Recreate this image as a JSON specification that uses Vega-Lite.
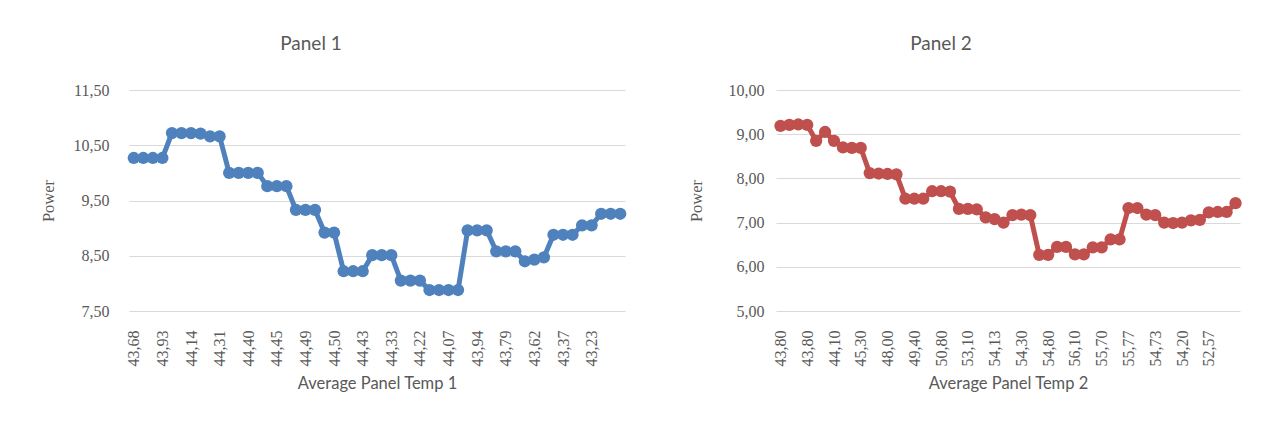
{
  "$schema": "https://vega.github.io/schema/vega-lite/v6.json",
  "background": "white",
  "padding": {"left": 40, "top": 35, "right": 5, "bottom": 5},
  "config": {
    "view": {"stroke": null},
    "title": {"font": "Lato", "fontSize": 19, "fontWeight": "normal", "color": "#595959"},
    "axis": {
      "labelFont": "Liberation Serif", "labelFontSize": 16, "labelColor": "#595959",
      "titleFont": "Lato", "titleFontSize": 16.5, "titleFontWeight": "normal", "titleColor": "#595959",
      "gridColor": "#d9d9d9", "gridWidth": 1, "domain": false, "ticks": false
    }
  },
  "datasets": {
    "p1": [
      {"i": 0, "power": 10.27}, {"i": 1, "power": 10.27}, {"i": 2, "power": 10.27}, {"i": 3, "power": 10.27},
      {"i": 4, "power": 10.72}, {"i": 5, "power": 10.72}, {"i": 6, "power": 10.72}, {"i": 7, "power": 10.71},
      {"i": 8, "power": 10.66}, {"i": 9, "power": 10.66},
      {"i": 10, "power": 10.0}, {"i": 11, "power": 10.0}, {"i": 12, "power": 10.0}, {"i": 13, "power": 10.0},
      {"i": 14, "power": 9.76}, {"i": 15, "power": 9.76}, {"i": 16, "power": 9.76},
      {"i": 17, "power": 9.33}, {"i": 18, "power": 9.33}, {"i": 19, "power": 9.33},
      {"i": 20, "power": 8.92}, {"i": 21, "power": 8.92},
      {"i": 22, "power": 8.22}, {"i": 23, "power": 8.22}, {"i": 24, "power": 8.22},
      {"i": 25, "power": 8.51}, {"i": 26, "power": 8.51}, {"i": 27, "power": 8.51},
      {"i": 28, "power": 8.05}, {"i": 29, "power": 8.05}, {"i": 30, "power": 8.05},
      {"i": 31, "power": 7.88}, {"i": 32, "power": 7.88}, {"i": 33, "power": 7.88}, {"i": 34, "power": 7.88},
      {"i": 35, "power": 8.96}, {"i": 36, "power": 8.96}, {"i": 37, "power": 8.96},
      {"i": 38, "power": 8.58}, {"i": 39, "power": 8.58}, {"i": 40, "power": 8.58},
      {"i": 41, "power": 8.40}, {"i": 42, "power": 8.43}, {"i": 43, "power": 8.47},
      {"i": 44, "power": 8.88}, {"i": 45, "power": 8.88}, {"i": 46, "power": 8.88},
      {"i": 47, "power": 9.05}, {"i": 48, "power": 9.05},
      {"i": 49, "power": 9.26}, {"i": 50, "power": 9.26}, {"i": 51, "power": 9.26}
    ],
    "p2": [
      {"i": 0, "power": 9.19}, {"i": 1, "power": 9.21}, {"i": 2, "power": 9.22}, {"i": 3, "power": 9.21},
      {"i": 4, "power": 8.85}, {"i": 5, "power": 9.05}, {"i": 6, "power": 8.85},
      {"i": 7, "power": 8.70}, {"i": 8, "power": 8.69}, {"i": 9, "power": 8.69},
      {"i": 10, "power": 8.12}, {"i": 11, "power": 8.11}, {"i": 12, "power": 8.10}, {"i": 13, "power": 8.09},
      {"i": 14, "power": 7.54}, {"i": 15, "power": 7.54}, {"i": 16, "power": 7.54},
      {"i": 17, "power": 7.71}, {"i": 18, "power": 7.71}, {"i": 19, "power": 7.70},
      {"i": 20, "power": 7.31}, {"i": 21, "power": 7.31}, {"i": 22, "power": 7.30},
      {"i": 23, "power": 7.12}, {"i": 24, "power": 7.08}, {"i": 25, "power": 7.00},
      {"i": 26, "power": 7.17}, {"i": 27, "power": 7.18}, {"i": 28, "power": 7.17},
      {"i": 29, "power": 6.27}, {"i": 30, "power": 6.27},
      {"i": 31, "power": 6.45}, {"i": 32, "power": 6.45},
      {"i": 33, "power": 6.28}, {"i": 34, "power": 6.28},
      {"i": 35, "power": 6.44}, {"i": 36, "power": 6.44},
      {"i": 37, "power": 6.62}, {"i": 38, "power": 6.62},
      {"i": 39, "power": 7.33}, {"i": 40, "power": 7.33},
      {"i": 41, "power": 7.18}, {"i": 42, "power": 7.17},
      {"i": 43, "power": 7.00}, {"i": 44, "power": 6.99}, {"i": 45, "power": 7.00},
      {"i": 46, "power": 7.05}, {"i": 47, "power": 7.06},
      {"i": 48, "power": 7.23}, {"i": 49, "power": 7.24}, {"i": 50, "power": 7.24},
      {"i": 51, "power": 7.44}
    ]
  },
  "spacing": 57,
  "hconcat": [
    {
      "title": {"text": "Panel 1", "dx": -66, "offset": 28},
      "width": 496,
      "height": 221,
      "data": {"name": "p1"},
      "mark": {"type": "line", "color": "#4F81BD", "strokeWidth": 5, "point": {"filled": true, "size": 150, "color": "#4F81BD", "opacity": 1}},
      "encoding": {
        "x": {
          "field": "i", "type": "ordinal",
          "axis": {
            "title": "Average Panel Temp 1", "grid": false, "labelAngle": -90, "labelPadding": 19, "titlePadding": 9,
            "values": [0, 3, 6, 9, 12, 15, 18, 21, 24, 27, 30, 33, 36, 39, 42, 45, 48],
            "labelExpr": "['43,68','43,93','44,14','44,31','44,40','44,45','44,49','44,50','44,43','44,33','44,22','44,07','43,94','43,79','43,62','43,37','43,23'][round(datum.value/3)]"
          }
        },
        "y": {
          "field": "power", "type": "quantitative",
          "scale": {"domain": [7.5, 11.5], "nice": false, "zero": false},
          "axis": {
            "title": "Power", "titleFont": "Liberation Serif", "titlePadding": 17, "labelPadding": 20,
            "values": [7.5, 8.5, 9.5, 10.5, 11.5],
            "labelExpr": "replace(format(datum.value, '.2f'), '.', ',')"
          }
        }
      }
    },
    {
      "title": {"text": "Panel 2", "dx": -67, "offset": 28},
      "width": 464,
      "height": 221,
      "data": {"name": "p2"},
      "mark": {"type": "line", "color": "#C0504D", "strokeWidth": 5, "point": {"filled": true, "size": 150, "color": "#C0504D", "opacity": 1}},
      "encoding": {
        "x": {
          "field": "i", "type": "ordinal",
          "axis": {
            "title": "Average Panel Temp 2", "grid": false, "labelAngle": -90, "labelPadding": 19, "titlePadding": 9,
            "values": [0, 3, 6, 9, 12, 15, 18, 21, 24, 27, 30, 33, 36, 39, 42, 45, 48],
            "labelExpr": "['43,80','43,80','44,10','45,30','48,00','49,40','50,80','53,10','54,13','54,30','54,80','56,10','55,70','55,77','54,73','54,20','52,57'][round(datum.value/3)]"
          }
        },
        "y": {
          "field": "power", "type": "quantitative",
          "scale": {"domain": [5, 10], "nice": false, "zero": false},
          "axis": {
            "title": "Power", "titleFont": "Liberation Serif", "titlePadding": 24, "labelPadding": 12,
            "values": [5, 6, 7, 8, 9, 10],
            "labelExpr": "replace(format(datum.value, '.2f'), '.', ',')"
          }
        }
      }
    }
  ]
}
